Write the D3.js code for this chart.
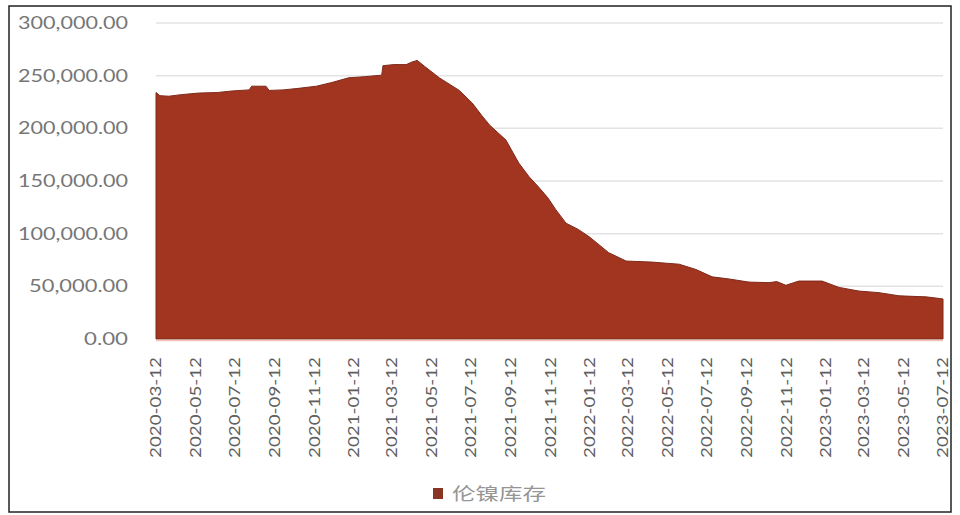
<!DOCTYPE html>
<html>
<head>
<meta charset="utf-8">
<script src="https://cdn.jsdelivr.net/npm/d3@7"></script>
<style>
  html, body { margin: 0; padding: 0; background: #fff; }
  svg { display: block; }
</style>
</head>
<body>
<svg id="chart" width="960" height="515"></svg>
<script>
// ---- data ----
const dates = ["2020-03-12","2020-03-18","2020-04-01","2020-04-20","2020-05-17","2020-06-15","2020-07-08","2020-08-03","2020-08-07","2020-08-29","2020-09-03","2020-09-25","2020-10-19","2020-11-15","2020-12-09","2021-01-04","2021-01-28","2021-02-24","2021-02-26","2021-03-15","2021-04-03","2021-04-12","2021-04-20","2021-05-01","2021-05-24","2021-06-24","2021-07-14","2021-07-29","2021-08-10","2021-09-04","2021-09-24","2021-10-10","2021-10-25","2021-11-08","2021-11-20","2021-12-06","2021-12-25","2022-01-11","2022-02-10","2022-03-09","2022-04-18","2022-05-30","2022-06-25","2022-07-20","2022-08-15","2022-09-15","2022-10-16","2022-10-28","2022-11-11","2022-12-01","2023-01-06","2023-02-01","2023-03-04","2023-04-04","2023-05-05","2023-06-16","2023-07-06","2023-07-12"];
const values = [234000,231000,230500,232000,233500,234000,235500,236500,240000,240000,236000,236500,238000,240000,243500,248000,249000,250500,259500,260500,260500,263000,264500,259000,248000,236000,224000,212000,203000,189000,167000,154000,144000,134000,123000,110000,104000,97000,82000,74000,73000,71000,66000,59000,57000,54000,53500,54500,51000,55000,55000,49000,45500,44000,41000,40000,38500,38000];
const xTickLabels = ["2020-03-12","2020-05-12","2020-07-12","2020-09-12","2020-11-12","2021-01-12","2021-03-12","2021-05-12","2021-07-12","2021-09-12","2021-11-12","2022-01-12","2022-03-12","2022-05-12","2022-07-12","2022-09-12","2022-11-12","2023-01-12","2023-03-12","2023-05-12","2023-07-12"];
const yTickValues = [0,50000,100000,150000,200000,250000,300000];
const seriesName = "伦镍库存";

// ---- chart ----
(function () {
const parse = d3.utcParse("%Y-%m-%d");
const data = dates.map((d, i) => ({ date: parse(d), value: values[i] }));

const svg = d3.select("#chart");
const mLeft = 156, mRight = 943, mTop = 23, mBottom = 339;

const x = d3.scaleUtc()
  .domain([parse("2020-03-12"), parse("2023-07-12")])
  .range([mLeft, mRight]);
const y = d3.scaleLinear().domain([0, 300000]).range([mBottom, mTop]);

// outer frame
svg.append("rect")
  .attr("x", 9).attr("y", 6).attr("width", 942).attr("height", 506)
  .attr("fill", "none").attr("stroke", "#222").attr("stroke-width", 1.5);

// gridlines
svg.append("g")
  .selectAll("line")
  .data(yTickValues.filter(v => v > 0))
  .join("line")
  .attr("x1", mLeft).attr("x2", mRight)
  .attr("y1", d => y(d)).attr("y2", d => y(d))
  .attr("stroke", "#e3e3e3").attr("stroke-width", 1.5);

// y axis labels
const fmt = d3.format(",.2f");
svg.append("g")
  .selectAll("text")
  .data(yTickValues)
  .join("text")
  .attr("x", 128)
  .attr("y", d => y(d))
  .attr("dy", "0.35em")
  .attr("text-anchor", "end")
  .attr("font-family", "Lato, sans-serif")
  .attr("font-size", 17)
  .attr("fill", "#767676")
  .attr("textLength", d => fmt(d).length * 11)
  .attr("lengthAdjust", "spacingAndGlyphs")
  .text(d => fmt(d));

// area
const area = d3.area()
  .x(d => x(d.date))
  .y0(y(0))
  .y1(d => y(d.value))
  .curve(d3.curveLinear);

svg.append("path")
  .datum(data)
  .attr("d", area)
  .attr("fill", "#a2351f")
  .attr("stroke", "#7e2a1b")
  .attr("stroke-width", 1);

// x axis baseline
svg.append("line")
  .attr("x1", mLeft).attr("x2", mRight)
  .attr("y1", mBottom + 1.5).attr("y2", mBottom + 1.5)
  .attr("stroke", "#f0c4bb").attr("stroke-width", 1.5);

// x tick labels (rotated)
svg.append("g")
  .selectAll("text")
  .data(xTickLabels)
  .join("text")
  .attr("transform", d => `translate(${x(parse(d))},357) rotate(-90)`)
  .attr("dy", "0.35em")
  .attr("text-anchor", "end")
  .attr("font-family", "Lato, sans-serif")
  .attr("font-size", 15)
  .attr("fill", "#606060")
  .attr("textLength", 101)
  .attr("lengthAdjust", "spacingAndGlyphs")
  .text(d => d);

// legend
const lg = svg.append("g");
lg.append("rect")
  .attr("x", 433).attr("y", 488).attr("width", 10).attr("height", 11)
  .attr("fill", "#8a3524");
lg.append("text")
  .attr("x", 452).attr("y", 494)
  .attr("dy", "0.35em")
  .attr("font-family", "Noto Sans CJK SC, sans-serif")
  .attr("font-size", 17)
  .attr("fill", "#959595")
  .attr("textLength", 94)
  .attr("lengthAdjust", "spacingAndGlyphs")
  .text(seriesName);
})();
</script>
</body>
</html>
